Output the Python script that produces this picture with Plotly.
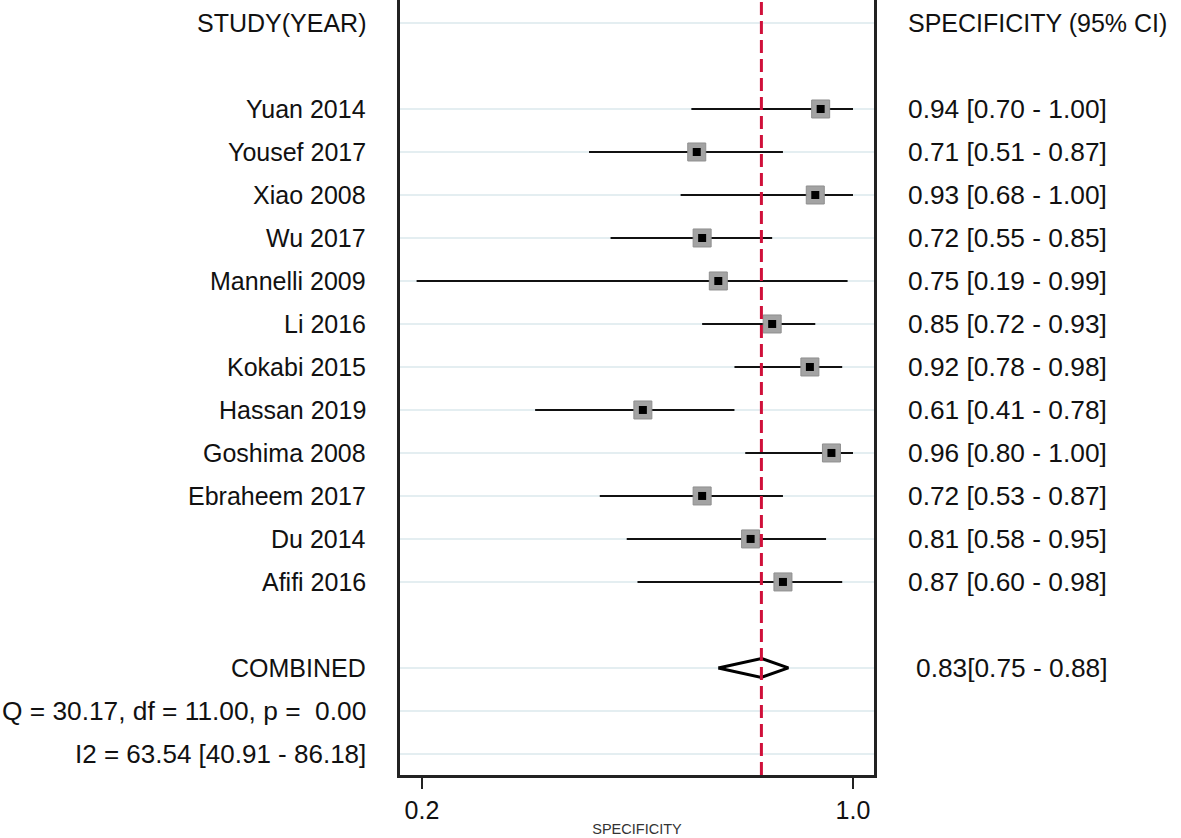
import plotly.graph_objects as go

# ---- data ----
studies = ["Yuan 2014", "Yousef 2017", "Xiao 2008", "Wu 2017", "Mannelli 2009",
           "Li 2016", "Kokabi 2015", "Hassan 2019", "Goshima 2008",
           "Ebraheem 2017", "Du 2014", "Afifi 2016"]
spec = [0.94, 0.71, 0.93, 0.72, 0.75, 0.85, 0.92, 0.61, 0.96, 0.72, 0.81, 0.87]
ci_lo = [0.70, 0.51, 0.68, 0.55, 0.19, 0.72, 0.78, 0.41, 0.80, 0.53, 0.58, 0.60]
ci_hi = [1.00, 0.87, 1.00, 0.85, 0.99, 0.93, 0.98, 0.78, 1.00, 0.87, 0.95, 0.98]
combined = 0.83
combined_lo = 0.75
combined_hi = 0.88
het_q_text = "Q = 30.17, df = 11.00, p =  0.00"
het_i2_text = "I2 = 63.54 [40.91 - 86.18]"
x_ticks = [0.2, 1.0]
x_tick_labels = ["0.2", "1.0"]

# ---- row layout ----
header_row = 0
study_rows = list(range(2, 2 + len(studies)))
comb_row = study_rows[-1] + 2
q_row = comb_row + 1
i2_row = comb_row + 2

FONT = "Liberation Sans, Arial, sans-serif"
TXT = "#111111"
AX = "#222222"

fig = go.Figure()

# CI lines
xs, ys = [], []
for r, l, h in zip(study_rows, ci_lo, ci_hi):
    xs += [l, h, None]
    ys += [r, r, None]
fig.add_trace(go.Scatter(x=xs, y=ys, mode="lines",
                         line=dict(color="#111111", width=2),
                         hoverinfo="skip", showlegend=False))

# gray weight boxes
fig.add_trace(go.Scatter(x=spec, y=study_rows, mode="markers",
                         marker=dict(symbol="square", size=18, color="#a3a3a3",
                                     line=dict(color="#8f8f8f", width=1)),
                         showlegend=False))
# black point estimates
fig.add_trace(go.Scatter(x=spec, y=study_rows, mode="markers",
                         marker=dict(symbol="square", size=8, color="#000000"),
                         showlegend=False))

# combined diamond
hh = 0.22
fig.add_trace(go.Scatter(x=[combined_lo, combined, combined_hi, combined, combined_lo],
                         y=[comb_row, comb_row - hh, comb_row, comb_row + hh, comb_row],
                         mode="lines", fill="toself", fillcolor="white",
                         line=dict(color="#000000", width=3),
                         showlegend=False, hoverinfo="skip"))

# dashed reference line at pooled estimate
fig.add_shape(type="line", x0=combined, x1=combined, xref="x", yref="paper",
              y0=0, y1=1, line=dict(color="#d0103a", width=3, dash="13px,6px"),
              layer="above")

# ---- text columns ----
ann = []
left_x = (368 - 400) / 474
right_x = (906 - 400) / 474
comb_x = (914 - 400) / 474

def left(text, row, size=25):
    ann.append(dict(x=left_x, y=row, xref="paper", yref="y", text=text,
                    showarrow=False, xanchor="right", yanchor="middle",
                    font=dict(family=FONT, size=size, color=TXT)))

def right(text, row, x=right_x, size=26.3):
    ann.append(dict(x=x, y=row, xref="paper", yref="y", text=text,
                    showarrow=False, xanchor="left", yanchor="middle",
                    font=dict(family=FONT, size=size, color=TXT)))

left("STUDY(YEAR)", header_row)
right("SPECIFICITY (95% CI)", header_row, size=25)
for name, r, s, l, h in zip(studies, study_rows, spec, ci_lo, ci_hi):
    left(name, r)
    right(f"{s:.2f} [{l:.2f} - {h:.2f}]", r)
left("COMBINED", comb_row)
right(f"{combined:.2f}[{combined_lo:.2f} - {combined_hi:.2f}]", comb_row, comb_x)
left(het_q_text, q_row, size=26.3)
left(het_i2_text, i2_row, size=26)

grid_rows = [header_row] + study_rows + [comb_row, q_row, i2_row]

fig.update_layout(
    width=1181, height=838,
    margin=dict(l=400, r=307, t=0, b=63),
    plot_bgcolor="white", paper_bgcolor="white",
    annotations=ann,
    xaxis=dict(range=[0.1592, 1.039], tickvals=x_ticks, ticktext=x_tick_labels,
               ticks="outside", ticklen=11, tickwidth=2, tickcolor=AX,
               showgrid=False, zeroline=False,
               showline=True, linecolor=AX, linewidth=2.5,
               tickfont=dict(family=FONT, size=25, color=TXT),
               title=dict(text="SPECIFICITY", standoff=2,
                          font=dict(family=FONT, size=14.5, color="#333333"))),
    yaxis=dict(range=[17.49, -0.535], tickvals=grid_rows, showticklabels=False,
               ticks="", showgrid=True, gridcolor="#e4eef1", gridwidth=2,
               zeroline=False, showline=True, mirror=True,
               linecolor=AX, linewidth=2.5),
)

fig.write_html("out.html", config={"displayModeBar": False},
               post_script="document.body.style.margin='0';")
